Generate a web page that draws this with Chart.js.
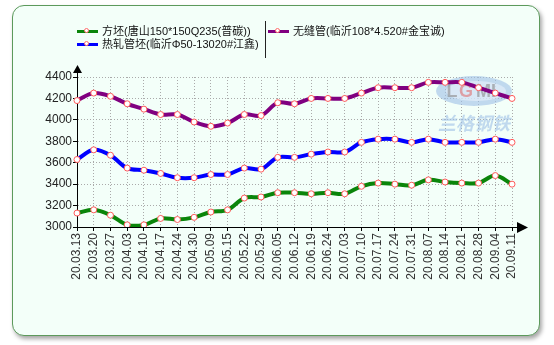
<!DOCTYPE html>
<html>
<head>
<meta charset="utf-8">
<script src="https://cdn.jsdelivr.net/npm/chart.js@4.4.1/dist/chart.umd.min.js"></script>
<style>
  html, body { margin: 0; padding: 0; background: #fff; }
  body { width: 554px; height: 345px; position: relative; overflow: hidden;
         font-family: "Liberation Sans", Arial, "Noto Sans CJK SC", sans-serif; }
  #box { position: absolute; left: 12px; top: 5px; width: 526px; height: 329px;
         border: 1px solid #5c9a5c; border-radius: 12px; background: #f3fff9;
         box-shadow: 2px 3px 4px rgba(0,0,0,0.35); overflow: hidden; }
  #chart { position: absolute; left: 0; top: 0; }
  .legend-item { position: absolute; font-size: 11px; line-height: 13px; color: #111; white-space: nowrap; }
  .legend-item .ico { display: inline-block; position: relative; width: 21px; height: 3px;
         vertical-align: middle; margin-right: 4px; top: -1px; }
  .legend-item .ico i { position: absolute; left: 7px; top: -2px; width: 5px; height: 5px; box-sizing: border-box;
         border: 1px solid #ff6b6b; border-radius: 50%; background: #fff; }
  #sep { position: absolute; left: 252px; top: 15px; width: 1px; height: 37px; background: #222; }
</style>
</head>
<body>
<div id="box">
  <canvas id="chart" width="526" height="329"></canvas>
  <div id="sep"></div>
</div>
<script>
const dates = ["20.03.13","20.03.20","20.03.27","20.04.03","20.04.10","20.04.17","20.04.24","20.04.30","20.05.09","20.05.15","20.05.22","20.05.29","20.06.05","20.06.12","20.06.19","20.06.24","20.07.03","20.07.10","20.07.17","20.07.24","20.07.31","20.08.07","20.08.14","20.08.21","20.08.28","20.09.04","20.09.11"];

const billetPrice = [3130,3160,3110,3020,3020,3080,3070,3090,3140,3160,3270,3280,3320,3320,3310,3320,3310,3380,3410,3400,3390,3440,3420,3410,3410,3480,3400];
const tubeBilletPrice = [3630,3720,3670,3550,3530,3500,3460,3460,3490,3490,3550,3540,3650,3650,3680,3700,3700,3790,3820,3820,3790,3820,3790,3790,3790,3820,3790];
const seamlessPrice = [4180,4250,4220,4150,4100,4050,4050,3980,3940,3970,4050,4040,4160,4150,4200,4200,4200,4250,4300,4300,4300,4350,4350,4350,4300,4250,4200];

const seriesNames = ["方坯(唐山150*150Q235(普碳))", "热轧管坯(临沂Φ50-13020#江鑫)", "无缝管(临沂108*4.520#金宝诚)"];
const seriesColors = ["#0a850a", "#0000ff", "#800080"];
const yTicks = [3000, 3200, 3400, 3600, 3800, 4000, 4200, 4400];

// arrows on both axes + faint logo in the corner
const decorations = {
  id: "decorations",
  beforeDatasetsDraw(chart) {
    const { ctx, chartArea: a } = chart;
    const cx = a.right - 38, cy = a.top + 14;
    ctx.save();
    ctx.globalAlpha = 0.6;
    ctx.fillStyle = "#9fbfe6";
    ctx.beginPath();
    ctx.ellipse(cx, cy, 38, 15, 0, 0, Math.PI * 2);
    ctx.fill();
    ctx.fillStyle = "#eaf2fb";
    ctx.beginPath();
    ctx.ellipse(cx + 2, cy, 30, 10, 0, 0, Math.PI * 2);
    ctx.fill();
    ctx.font = "bold 18px 'Liberation Sans', Arial";
    ctx.textAlign = "center";
    ctx.textBaseline = "middle";
    ctx.fillStyle = "#8a8a8a";
    ctx.fillText("L", cx - 22, cy + 1);
    ctx.fillStyle = "#e07070";
    ctx.fillText("G", cx - 8, cy + 1);
    ctx.fillStyle = "#8a8a8a";
    ctx.fillText("MI", cx + 12, cy + 1);
    ctx.fillStyle = "#9fbfe6";
    ctx.font = "italic bold 18px 'Noto Sans CJK SC'";
    ctx.fillText("兰格钢铁", cx, cy + 32);
    ctx.restore();
  },
  afterDraw(chart) {
    const { ctx, chartArea: a } = chart;
    ctx.save();
    ctx.strokeStyle = "#000";
    ctx.fillStyle = "#000";
    ctx.lineWidth = 1;
    ctx.beginPath();
    ctx.moveTo(a.left + 0.5, a.top);
    ctx.lineTo(a.left + 0.5, a.top - 5);
    ctx.moveTo(a.right, a.bottom + 0.5);
    ctx.lineTo(a.right + 6, a.bottom + 0.5);
    ctx.stroke();
    ctx.beginPath();
    ctx.moveTo(a.left + 0.5, a.top - 12);
    ctx.lineTo(a.left - 4, a.top - 4);
    ctx.lineTo(a.left + 5, a.top - 4);
    ctx.closePath();
    ctx.fill();
    ctx.beginPath();
    ctx.moveTo(a.right + 16, a.bottom + 0.5);
    ctx.lineTo(a.right + 5, a.bottom - 5);
    ctx.lineTo(a.right + 5, a.bottom + 6);
    ctx.closePath();
    ctx.fill();
    ctx.restore();
  }
};

const makeSet = (i, values) => ({
  label: seriesNames[i],
  data: values,
  borderColor: seriesColors[i],
  backgroundColor: seriesColors[i],
  borderWidth: 4,
  tension: 0.35,
  pointRadius: 3,
  pointBorderWidth: 1,
  pointBorderColor: "#ff5a5a",
  pointBackgroundColor: "#ffffff",
  fill: false
});

const chart = new Chart(document.getElementById("chart"), {
  type: "line",
  plugins: [decorations],
  data: {
    labels: dates,
    datasets: [makeSet(0, billetPrice), makeSet(1, tubeBilletPrice), makeSet(2, seamlessPrice)]
  },
  options: {
    responsive: false,
    animation: false,
    events: [],
    layout: { padding: { top: 71, right: 27, left: 0, bottom: 0 } },
    plugins: { legend: { display: false }, tooltip: { enabled: false } },
    scales: {
      x: {
        offset: false,
        afterFit: (s) => { s.height = 108; },
        grid: { color: "#aaaaaa", tickColor: "#000", tickLength: 4, drawOnChartArea: true },
        border: { color: "#000", width: 1, dash: [1, 2] },
        ticks: { color: "#333", font: { size: 12, family: "'Liberation Sans', Arial" },
                 minRotation: 90, maxRotation: 90, autoSkip: false, padding: 2 }
      },
      y: {
        min: 3000,
        max: 4400,
        afterFit: (s) => { s.width = 64; },
        afterBuildTicks: (s) => { s.ticks = yTicks.map(v => ({ value: v })); },
        grid: { color: "#aaaaaa", tickColor: "#000", tickLength: 4 },
        border: { color: "#000", width: 1, dash: [1, 2] },
        ticks: { color: "#222", font: { size: 12, family: "'Liberation Sans', Arial" }, padding: 1,
                 callback: (v) => String(v) }
      }
    }
  }
});

// two-column legend built from the datasets
const legendSpots = [[64, 19], [64, 32], [255, 19]];
const box = document.getElementById("box");
chart.data.datasets.forEach((ds, i) => {
  const el = document.createElement("div");
  el.className = "legend-item";
  el.style.left = legendSpots[i][0] + "px";
  el.style.top = legendSpots[i][1] + "px";
  el.innerHTML = `<span class="ico" style="background:${ds.borderColor}"><i></i></span>${ds.label}`;
  box.appendChild(el);
});
</script>
</body>
</html>
